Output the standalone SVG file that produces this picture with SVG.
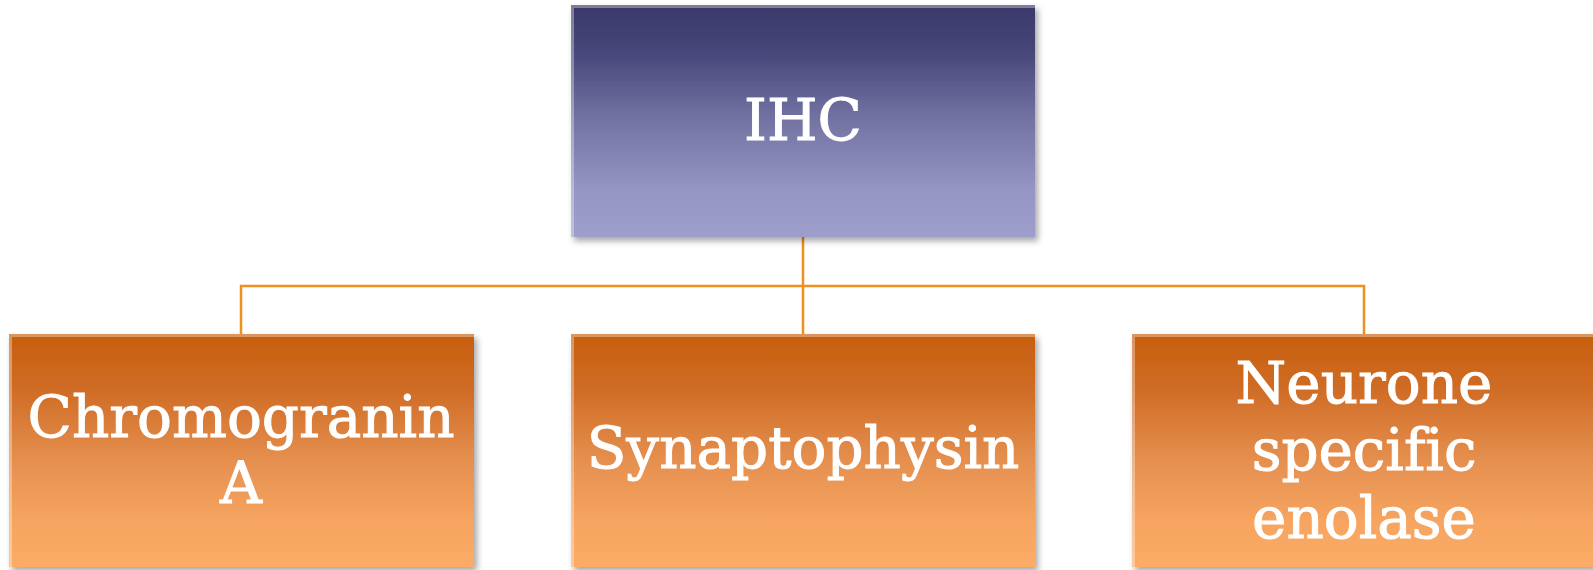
<svg xmlns="http://www.w3.org/2000/svg" width="1593" height="570" viewBox="0 0 1593 570">
  <defs>
    <linearGradient id="gTop" x1="0" y1="0" x2="0" y2="1">
      <stop offset="0" stop-color="#3a386a"/>
      <stop offset="0.2" stop-color="#46467a"/>
      <stop offset="0.5" stop-color="#7474a4"/>
      <stop offset="0.8" stop-color="#9696c4"/>
      <stop offset="1" stop-color="#9e9ecb"/>
    </linearGradient>
    <linearGradient id="gOr" x1="0" y1="0" x2="0" y2="1">
      <stop offset="0" stop-color="#c75e0d"/>
      <stop offset="0.25" stop-color="#d06d27"/>
      <stop offset="0.55" stop-color="#e69050"/>
      <stop offset="0.8" stop-color="#f6a460"/>
      <stop offset="1" stop-color="#fcac66"/>
    </linearGradient>
    <filter id="sh" x="-5%" y="-5%" width="112%" height="115%">
      <feGaussianBlur in="SourceAlpha" stdDeviation="3"/>
      <feOffset dx="3" dy="4" result="b"/>
      <feFlood flood-color="#000" flood-opacity="0.35"/>
      <feComposite in2="b" operator="in"/>
      <feMerge><feMergeNode/><feMergeNode in="SourceGraphic"/></feMerge>
    </filter>
  </defs>
  <style>
    .lbl { font-family: "DejaVu Serif", "Liberation Serif", serif; font-size: 58px; fill: #ffffff; stroke: #ffffff; stroke-width: 1; text-anchor: middle; font-variant-ligatures: none; }
    .conn { stroke: #f0901e; stroke-width: 2.5; fill: none; }
    .edge { fill: none; stroke: #ffffff; stroke-opacity: 0.35; stroke-width: 3; }
  </style>
  <rect width="1593" height="570" fill="#ffffff"/>
  <g id="connectors">
    <path class="conn" d="M803 237 V286 M241 334 V286 H1364 V334 M803 286 V334"/>
  </g>
  <g id="ihc">
    <rect x="571" y="5" width="464" height="232" fill="url(#gTop)" filter="url(#sh)"/>
    <path class="edge" d="M572.5 237 V6.5 H1035"/>
    <text class="lbl" x="803" y="140">IHC</text>
  </g>
  <g id="chromogranin">
    <rect x="9" y="334" width="465" height="233" fill="url(#gOr)" filter="url(#sh)"/>
    <path class="edge" d="M10.5 567 V335.5 H474"/>
    <text class="lbl" x="241" y="437">Chromogranin</text>
    <text class="lbl" x="241" y="503">A</text>
  </g>
  <g id="synaptophysin">
    <rect x="571" y="334" width="464" height="233" fill="url(#gOr)" filter="url(#sh)"/>
    <path class="edge" d="M572.5 567 V335.5 H1035"/>
    <text class="lbl" x="803" y="468">Synaptophysin</text>
  </g>
  <g id="nse">
    <rect x="1132" y="334" width="465" height="233" fill="url(#gOr)" filter="url(#sh)"/>
    <path class="edge" d="M1133.5 567 V335.5 H1597"/>
    <text class="lbl" x="1364" y="403">Neurone</text>
    <text class="lbl" x="1364" y="470">specific</text>
    <text class="lbl" x="1364" y="538">enolase</text>
  </g>
</svg>
